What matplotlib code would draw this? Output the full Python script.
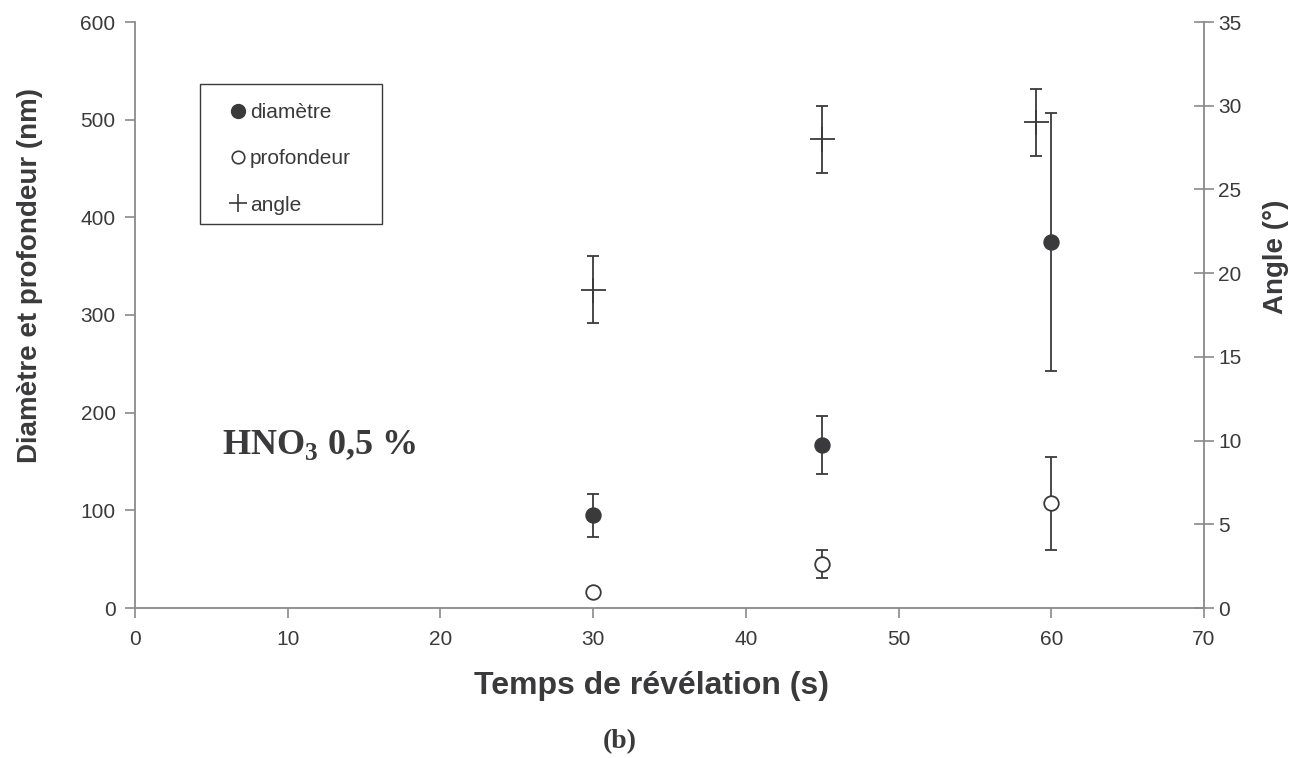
import matplotlib
matplotlib.use("Agg")
import matplotlib.pyplot as plt
from matplotlib.patches import Rectangle
from matplotlib.lines import Line2D

# data
temps = [30, 45, 60]
diametre = [95, 167, 375]
diametre_err = [22, 30, 132]
profondeur = [16, 45, 107]
profondeur_err = [0, 14, 48]
temps_angle = [30, 45, 59]
angle = [19, 28, 29]
angle_err = [2, 2, 2]

dark = "#3a3a3c"
axis_grey = "#8a8a8a"

plt.rcParams["font.family"] = ["Liberation Sans", "DejaVu Sans"]
plt.rcParams["mathtext.fontset"] = "custom"
plt.rcParams["mathtext.bf"] = "Liberation Serif:bold"
plt.rcParams["mathtext.rm"] = "Liberation Serif:bold"

fig = plt.figure(figsize=(13.1, 7.58), dpi=100)
ax = fig.add_axes([135 / 1310, 1 - 608 / 758, (1204 - 135) / 1310, (608 - 22) / 758])
ax2 = ax.twinx()

eb_kw = dict(linestyle="none", ecolor=dark, elinewidth=1.3, capsize=4, capthick=1.3)
ax.errorbar(temps, diametre, yerr=diametre_err, marker="o", ms=10.8,
            mfc=dark, mec=dark, **eb_kw, zorder=3)
ax.errorbar(temps, profondeur, yerr=profondeur_err, marker="o", ms=10.5,
            mfc="white", mec=dark, mew=1.3, **eb_kw, zorder=4)
ax2.errorbar(temps_angle, angle, yerr=angle_err, marker="+", ms=18,
             mew=1.3, color=dark, **eb_kw, zorder=3)

ax.set_xlim(0, 70)
ax.set_ylim(0, 600)
ax2.set_ylim(0, 35)
ax.set_xticks(range(0, 71, 10))
ax.set_yticks(range(0, 601, 100))
ax2.set_yticks(range(0, 36, 5))

for a in (ax, ax2):
    a.spines["top"].set_visible(False)
    for s in a.spines.values():
        s.set_color(axis_grey)
        s.set_linewidth(1.3)
ax.spines["right"].set_visible(False)
ax2.spines["left"].set_visible(False)
ax2.spines["bottom"].set_visible(False)

ax.tick_params(axis="both", direction="out", length=7, width=1.2, color=axis_grey,
               labelsize=15, labelcolor=dark)
ax.tick_params(axis="x", pad=9)
ax.tick_params(axis="y", pad=7)
ax2.tick_params(axis="y", direction="inout", length=14, width=1.2, color=axis_grey,
                labelsize=15, labelcolor=dark, pad=3)

fig.text(652 / 1310, 1 - 686 / 758, "Temps de révélation (s)", ha="center", va="center",
         fontsize=23, fontweight="bold", color=dark)
fig.text(30 / 1310, 1 - 275 / 758, "Diamètre et profondeur (nm)", ha="center", va="center",
         rotation=90, fontsize=20, fontweight="bold", color=dark)
fig.text(1276 / 1310, 1 - 257 / 758, "Angle (°)", ha="center", va="center",
         rotation=90, fontsize=20, fontweight="bold", color=dark)
fig.text(620 / 1310, 1 - 742 / 758, "(b)", ha="center", va="center",
         fontsize=20, fontweight="bold", color=dark, family="Liberation Serif")
fig.text(222 / 1310, 1 - 445 / 758, r"HNO$_\mathbf{3}$ 0,5 %", ha="left", va="center",
         fontsize=26, fontweight="bold", color=dark, family="Liberation Serif")

# legend box
fig.patches.append(Rectangle((200 / 1310, 1 - 224 / 758), 182 / 1310, 140 / 758,
                             transform=fig.transFigure, fill=False,
                             edgecolor=dark, linewidth=1.0))
handles = [
    Line2D([], [], linestyle="none", marker="o", ms=10, mfc=dark, mec=dark),
    Line2D([], [], linestyle="none", marker="o", ms=9, mfc="white", mec=dark, mew=1.2),
    Line2D([], [], linestyle="none", marker="+", ms=13, mew=1.2, color=dark),
]
leg = fig.legend(handles, ["diamètre", "profondeur", "angle"], loc="upper left",
                 bbox_to_anchor=(222 / 1310, 1 - 93 / 758), frameon=False,
                 fontsize=15, labelspacing=1.3, handlelength=0.5,
                 handletextpad=0.35, borderpad=0)
for t in leg.get_texts():
    t.set_color(dark)

fig.savefig("out.png", dpi=100)
